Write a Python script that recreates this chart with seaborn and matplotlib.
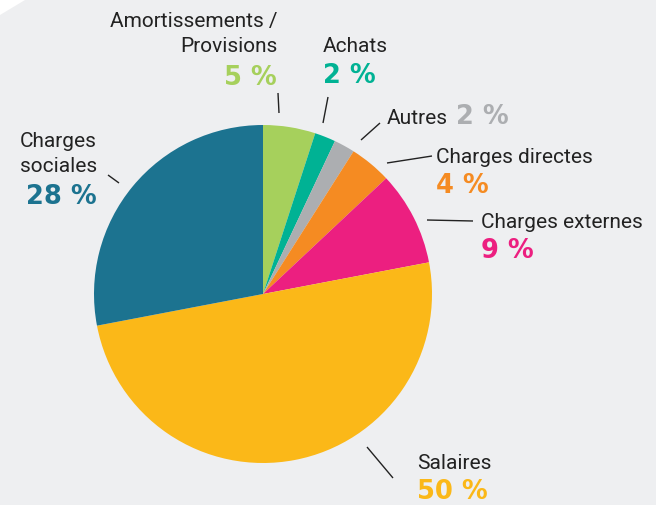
import matplotlib
matplotlib.use("Agg")
import matplotlib.pyplot as plt
import seaborn as sns
from matplotlib.patches import Polygon

# données
categories = ["Amortissements /\nProvisions", "Achats", "Autres", "Charges directes",
              "Charges externes", "Salaires", "Charges\nsociales"]
shares = [5, 2, 2, 4, 9, 50, 28]
palette = ["#a6d05c", "#00b294", "#acaeb1", "#f58b22", "#ec1f80", "#fbb818", "#1c7390"]

# mise en page des étiquettes (pixels, origine en haut à gauche)
W, H = 656, 505
layout = [
    dict(x=277, y=27, ha="right", px=277, py=85, line=((279, 113), (278, 93))),
    dict(x=323, y=52, ha="left", px=323, py=83, line=((323, 123), (328, 97))),
    dict(x=387, y=124, ha="left", px=456, py=124, line=((361, 140), (380, 123))),
    dict(x=436, y=163, ha="left", px=436, py=193, line=((387, 163), (432, 156))),
    dict(x=481, y=228, ha="left", px=481, py=258, line=((427, 220), (473, 221))),
    dict(x=417, y=469, ha="left", px=417, py=499, line=((367, 447), (393, 478))),
    dict(x=97, y=147, ha="right", px=97, py=204, line=((119, 183), (108, 175))),
]
line_step = 25.5
text_color = "#222222"

sns.set_theme(style="white")
plt.rcParams['font.family'] = ['Roboto', 'DejaVu Sans']

fig = plt.figure(figsize=(W / 100, H / 100), dpi=100)
fig.patch.set_facecolor("#eeeff1")
fig.patches.append(Polygon([(0, 1), (25 / W, 1), (0, 1 - 15 / H)],
                           closed=True, transform=fig.transFigure,
                           facecolor="white", edgecolor="none"))

ax = fig.add_axes([0, 0, 1, 1])
ax.set_facecolor("none")
ax.pie(shares, colors=palette, startangle=90, counterclock=False,
       center=(263, H - 294), radius=169, frame=False,
       wedgeprops={'linewidth': 0})
ax.set_xlim(0, W)
ax.set_ylim(0, H)
ax.set_aspect("equal")
ax.axis("off")

for name, val, col, lay in zip(categories, shares, palette, layout):
    # libellé, une ligne à la fois
    for i, part in enumerate(name.split("\n")):
        ax.text(lay["x"], H - (lay["y"] + i * line_step), part,
                ha=lay["ha"], va="baseline", fontsize=15, color=text_color)
    # pourcentage
    ax.text(lay["px"], H - lay["py"], f"{val} %", ha=lay["ha"], va="baseline",
            fontsize=18.5, fontweight="bold", color=col,
            family=['DejaVu Sans'])
    # trait de rappel
    (x0, y0), (x1, y1) = lay["line"]
    ax.plot([x0, x1], [H - y0, H - y1], color=text_color, lw=1.0,
            solid_capstyle="butt")

fig.savefig("out.png", dpi=100, facecolor=fig.get_facecolor())
